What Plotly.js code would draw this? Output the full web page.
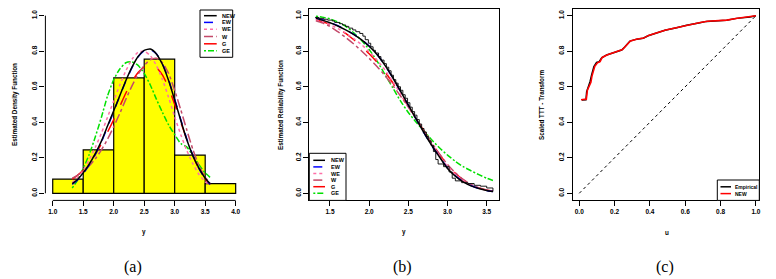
<!DOCTYPE html>
<html><head><meta charset="utf-8">
<script src="https://cdn.plot.ly/plotly-3.0.1.min.js"></script>
<style>html,body{margin:0;padding:0;background:#fff;}#chart{width:776px;height:279px;}</style>
</head><body><div id="chart"></div>
<script>
// ---------- data ----------
const histBreaks = [1.0, 1.5, 2.0, 2.5, 3.0, 3.5, 4.0];
const histDensity = [0.08, 0.245, 0.65, 0.755, 0.215, 0.055];

const modelNames = ["NEW", "EW", "WE", "W", "G", "GE"];
const gridY = [1.32,1.4,1.5,1.6,1.7,1.8,1.9,2.0,2.1,2.2,2.3,2.4,2.5,2.6,2.7,2.8,2.9,3.0,3.1,3.2,3.3,3.4,3.5,3.58];

const pdfNEW = [0.055,0.075,0.115,0.165,0.225,0.295,0.38,0.465,0.55,0.635,0.71,0.77,0.805,0.812,0.785,0.725,0.635,0.525,0.41,0.30,0.21,0.14,0.085,0.055];
const pdfEW  = [0.05,0.072,0.11,0.16,0.22,0.29,0.375,0.46,0.548,0.632,0.708,0.768,0.803,0.81,0.786,0.728,0.64,0.53,0.415,0.305,0.212,0.138,0.082,0.05];
const pdfWE  = [0.06,0.085,0.13,0.19,0.26,0.34,0.43,0.52,0.61,0.69,0.755,0.795,0.80,0.775,0.72,0.64,0.54,0.43,0.33,0.24,0.165,0.105,0.065,0.045];
const pdfW   = [0.085,0.10,0.125,0.155,0.195,0.245,0.305,0.375,0.45,0.53,0.605,0.67,0.72,0.752,0.76,0.735,0.675,0.58,0.47,0.355,0.245,0.155,0.09,0.06];
const pdfG   = [0.08,0.10,0.13,0.17,0.22,0.28,0.345,0.415,0.49,0.565,0.63,0.68,0.712,0.722,0.708,0.665,0.595,0.5,0.4,0.3,0.21,0.135,0.08,0.05];
const pdfGE  = [0.03,0.07,0.14,0.22,0.32,0.43,0.55,0.64,0.70,0.735,0.74,0.72,0.675,0.61,0.53,0.455,0.385,0.33,0.28,0.26,0.21,0.16,0.115,0.09];

const survNEW = [0.985,0.975,0.96,0.942,0.92,0.895,0.865,0.828,0.782,0.722,0.652,0.575,0.497,0.418,0.34,0.268,0.203,0.14,0.097,0.064,0.042,0.027,0.016,0.01];
const survEW  = [0.987,0.977,0.962,0.944,0.922,0.896,0.866,0.829,0.783,0.722,0.651,0.574,0.496,0.417,0.34,0.268,0.204,0.142,0.099,0.066,0.043,0.027,0.016,0.01];
const survWE  = [0.98,0.968,0.95,0.928,0.902,0.872,0.838,0.797,0.75,0.695,0.63,0.562,0.49,0.418,0.345,0.275,0.21,0.152,0.106,0.071,0.046,0.028,0.017,0.01];
const survW   = [0.972,0.96,0.94,0.91,0.878,0.842,0.803,0.76,0.714,0.664,0.608,0.548,0.485,0.418,0.35,0.283,0.22,0.162,0.115,0.078,0.05,0.03,0.018,0.011];
const survG   = [0.978,0.967,0.95,0.927,0.9,0.866,0.828,0.786,0.738,0.684,0.624,0.558,0.49,0.42,0.35,0.282,0.218,0.16,0.113,0.076,0.049,0.03,0.018,0.011];
const survGE  = [0.997,0.992,0.982,0.965,0.94,0.905,0.862,0.81,0.745,0.67,0.595,0.52,0.455,0.40,0.35,0.30,0.255,0.215,0.18,0.15,0.127,0.105,0.085,0.072];

const empX = [1.31,1.36,1.42,1.47,1.53,1.56,1.62,1.66,1.70,1.74,1.79,1.83,1.88,1.92,1.95,1.99,2.02,2.05,2.08,2.12,2.15,2.19,2.22,2.25,2.28,2.31,2.34,2.37,2.40,2.43,2.46,2.49,2.52,2.55,2.58,2.61,2.64,2.67,2.70,2.73,2.76,2.79,2.82,2.85,2.88,2.95,3.02,3.06,3.10,3.18,3.26,3.34,3.42,3.50,3.58];
const empS = [0.99,0.985,0.98,0.975,0.97,0.962,0.955,0.948,0.94,0.93,0.92,0.91,0.90,0.885,0.865,0.845,0.825,0.805,0.79,0.77,0.75,0.73,0.71,0.69,0.665,0.64,0.62,0.60,0.58,0.555,0.535,0.51,0.485,0.46,0.44,0.415,0.39,0.365,0.345,0.32,0.295,0.27,0.235,0.19,0.165,0.15,0.12,0.085,0.07,0.06,0.055,0.045,0.04,0.03,0.01];

const tttU_emp = [0.015,0.038,0.042,0.051,0.061,0.070,0.083,0.098,0.113,0.127,0.155,0.202,0.240,0.259,0.287,0.325,0.362,0.390,0.428,0.485,0.551,0.608,0.683,0.720,0.834,0.890,0.966,1.000];
const tttT_emp = [0.525,0.527,0.572,0.595,0.628,0.666,0.713,0.737,0.741,0.763,0.779,0.794,0.807,0.825,0.857,0.868,0.873,0.887,0.900,0.918,0.932,0.946,0.960,0.968,0.974,0.985,0.993,1.000];
const tttU_new = [0.010,0.040,0.046,0.055,0.066,0.072,0.088,0.103,0.118,0.130,0.160,0.205,0.245,0.262,0.290,0.330,0.365,0.392,0.430,0.490,0.555,0.610,0.685,0.725,0.835,0.895,0.970,1.000];
const tttT_new = [0.527,0.530,0.580,0.600,0.625,0.660,0.715,0.735,0.742,0.765,0.780,0.795,0.810,0.828,0.858,0.869,0.874,0.889,0.901,0.919,0.934,0.947,0.962,0.969,0.975,0.986,0.994,1.000];
const diagU = [0, 1];

const ticksA = [1.0,1.5,2.0,2.5,3.0,3.5,4.0];
const ticksB = [1.5,2.0,2.5,3.0,3.5];
const ticksC = [0.0,0.2,0.4,0.6,0.8,1.0];
const ticksProb = [0.0,0.2,0.4,0.6,0.8,1.0];

// ---------- styles ----------
const W = 776, H = 279;
const px = x => x / W;
const py = y => 1 - y / H;
const colors = ["#000000", "#0000ff", "#ff6fa8", "#c44a6a", "#ff0000", "#00e000"];
const dashes = ["solid", "dash", "dot", "dashdot", "longdash", "2px,2px,6px,2px"];
const lw = 1.5;
const tickFont = {family: "Liberation Sans, Arial, sans-serif", size: 6.5, color: "#000", weight: "bold"};
const pdfs = [pdfNEW, pdfEW, pdfWE, pdfW, pdfG, pdfGE];
const survs = [survNEW, survEW, survWE, survW, survG, survGE];

const traces = [];
const centers = histDensity.map((_, i) => (histBreaks[i] + histBreaks[i + 1]) / 2);
const widths = histDensity.map((_, i) => histBreaks[i + 1] - histBreaks[i]);
traces.push({type: "bar", x: centers, y: histDensity, width: widths, xaxis: "x", yaxis: "y",
  marker: {color: "#ffff00", line: {color: "#000", width: 1.2}}, showlegend: false, hoverinfo: "skip"});
[5,4,3,2,1,0].forEach(i => traces.push({type: "scatter", mode: "lines", x: gridY, y: pdfs[i], xaxis: "x", yaxis: "y",
  line: {color: colors[i], dash: dashes[i], width: lw, shape: "spline", smoothing: 0.6}, name: modelNames[i], showlegend: false, hoverinfo: "skip"}));
[5,4,3,2,1,0].forEach(i => traces.push({type: "scatter", mode: "lines", x: gridY, y: survs[i], xaxis: "x2", yaxis: "y2",
  line: {color: colors[i], dash: dashes[i], width: lw, shape: "spline", smoothing: 0.6}, name: modelNames[i], showlegend: false, hoverinfo: "skip"}));
traces.push({type: "scatter", mode: "lines", x: empX, y: empS, xaxis: "x2", yaxis: "y2",
  line: {color: "#000", width: 0.9, shape: "hv"}, showlegend: false, hoverinfo: "skip"});
traces.push({type: "scatter", mode: "lines", x: diagU, y: diagU, xaxis: "x3", yaxis: "y3",
  line: {color: "#000", dash: "3px,3px", width: 1}, showlegend: false, hoverinfo: "skip"});
traces.push({type: "scatter", mode: "lines", x: tttU_emp, y: tttT_emp, xaxis: "x3", yaxis: "y3",
  line: {color: "#000", width: 1.5}, name: "Empirical", showlegend: false, hoverinfo: "skip"});
traces.push({type: "scatter", mode: "lines", x: tttU_new, y: tttT_new, xaxis: "x3", yaxis: "y3",
  line: {color: "#ff0000", width: 1.6}, name: "NEW", showlegend: false, hoverinfo: "skip"});

// ---------- layout ----------
const domY = [py(200.4), py(8.6)];
const domA = [px(45.4), px(243)];
const domB = [px(309.3), px(499.3)];
const domC = [px(572.7), px(759.3)];

function xax(domain, range, tickvals, anchor, box) {
  return {domain, range, anchor, tickmode: "array", tickvals, tickformat: ".1f", ticks: "outside", ticklen: 5,
    tickwidth: 1, tickcolor: "#000", tickfont: tickFont, showgrid: false, zeroline: false,
    showline: box, mirror: box, linecolor: "#000", linewidth: 1, fixedrange: true};
}
function yax(anchor, box) {
  return {domain: domY, range: [-0.04, 1.04], anchor, tickmode: "array", tickvals: ticksProb, tickformat: ".1f",
    tickangle: -90, ticks: "outside", ticklen: 5, tickwidth: 1, tickcolor: "#000", tickfont: tickFont,
    showgrid: false, zeroline: false, showline: box, mirror: box, linecolor: "#000", linewidth: 1, fixedrange: true};
}

const shapes = [];
const annotations = [];
shapes.push({type: "line", xref: "x", yref: "paper", x0: ticksA[0], x1: ticksA[ticksA.length - 1], y0: domY[0], y1: domY[0], line: {color: "#000", width: 1}});
shapes.push({type: "line", xref: "paper", yref: "y", x0: domA[0], x1: domA[0], y0: ticksProb[0], y1: ticksProb[ticksProb.length - 1], line: {color: "#000", width: 1}});

const legFont = {family: "Liberation Sans, Arial, sans-serif", size: 5.5, color: "#000", weight: "bold"};
function legend(box, rows, names, cols, dsh, symX0, symX1, textX, fsize) {
  shapes.push({type: "rect", xref: "paper", yref: "paper", x0: px(box[0]), x1: px(box[1]), y0: py(box[3]), y1: py(box[2]),
    fillcolor: "#fff", line: {color: "#000", width: 1}});
  names.forEach((n, i) => {
    shapes.push({type: "line", xref: "paper", yref: "paper", x0: px(symX0), x1: px(symX1), y0: py(rows[i]), y1: py(rows[i]),
      line: {color: cols[i], dash: dsh[i], width: lw}});
    annotations.push({text: n, xref: "paper", yref: "paper", x: px(textX), y: py(rows[i]), xanchor: "left", yanchor: "middle",
      showarrow: false, font: Object.assign({}, legFont, {size: fsize})});
  });
}
legend([200, 232.7, 10, 57.3], [15.7, 22.4, 29.3, 36.6, 43.8, 50.7], modelNames, colors, dashes, 204, 216.7, 219.5, 5.5);
legend([309.3, 346, 153.3, 200.4], [160.3, 166.9, 173.5, 180.1, 186.7, 193.3], modelNames, colors, dashes, 313.3, 325, 329, 5.5);
legend([717.3, 759.3, 180, 200.4], [186.8, 193.6], ["Empirical", "NEW"], ["#000", "#ff0000"], ["solid", "solid"], 720.5, 731, 733, 5);

const titleFont = {family: "Liberation Sans, Arial, sans-serif", size: 6.3, color: "#000", weight: "bold"};
function ann(text, x, y, angle, font) {
  annotations.push({text, xref: "paper", yref: "paper", x: px(x), y: py(y), xanchor: "center", yanchor: "middle",
    showarrow: false, textangle: angle, font});
}
ann("Estimated Density Function", 15, 105, -90, titleFont);
ann("Estimated Reliability Function", 281, 105, -90, titleFont);
ann("Scaled TTT - Transform", 541, 105, -90, titleFont);
ann("y", 144, 232, 0, titleFont);
ann("y", 404, 232, 0, titleFont);
ann("u", 667, 232, 0, titleFont);
const capFont = {family: "Liberation Serif, Times New Roman, serif", size: 16, color: "#000"};
ann("(a)", 133, 267, 0, capFont);
ann("(b)", 402, 267, 0, capFont);
ann("(c)", 665, 267, 0, capFont);

const layout = {
  width: W, height: H, margin: {l: 0, r: 0, t: 0, b: 0}, paper_bgcolor: "#fff", plot_bgcolor: "#fff",
  showlegend: false, barmode: "overlay",
  xaxis: xax(domA, [0.88, 4.12], ticksA, "y", false),
  yaxis: yax("x", false),
  xaxis2: xax(domB, [1.236, 3.661], ticksB, "y2", true),
  yaxis2: yax("x2", true),
  xaxis3: xax(domC, [-0.037, 1.019], ticksC, "y3", true),
  yaxis3: yax("x3", true),
  shapes, annotations
};
Plotly.newPlot("chart", traces, layout, {staticPlot: true, displayModeBar: false});
</script></body></html>
